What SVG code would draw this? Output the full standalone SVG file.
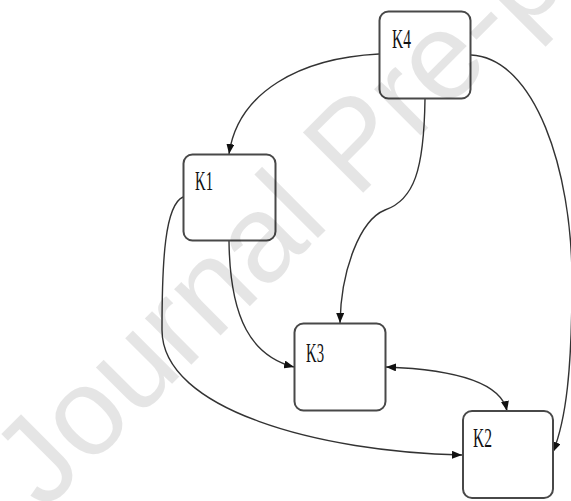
<svg xmlns="http://www.w3.org/2000/svg" width="571" height="501" viewBox="0 0 571 501">
  <style>
    .box { fill: #ffffff; stroke: #484848; stroke-width: 2; }
    .lbl { font-family: "Liberation Serif", "Times New Roman", serif; font-size: 28px; fill: #111111; }
    .edge { fill: none; stroke: #333333; stroke-width: 1.4; }
    .wm { font-family: "Liberation Sans", Arial, sans-serif; font-size: 124px; fill: #000000; fill-opacity: 0.1; }
  </style>
  <defs>
    <marker id="arrow" viewBox="0 0 10 8" refX="10" refY="4" markerWidth="10" markerHeight="8" markerUnits="userSpaceOnUse" orient="auto-start-reverse">
      <path d="M0,0 L10,4 L0,8 z" fill="#111111"/>
    </marker>
  </defs>

  <rect width="571" height="501" fill="#ffffff"/>

  <!-- connectors -->
  <g id="edges">
    <path class="edge" d="M379,54 C300,58 238,92 229,154" marker-end="url(#arrow)"/>
    <path class="edge" d="M425,99 C424,170 414,200 385,210 C360,220 341,270 340,323" marker-end="url(#arrow)"/>
    <path class="edge" d="M471,55 C535,58 572,170 572,280 C572,370 566,420 553,452" marker-end="url(#arrow)"/>
    <path class="edge" d="M229,241 C230,320 252,356 294,367" marker-end="url(#arrow)"/>
    <path class="edge" d="M183,197 C165,205 162,260 162,330 C162,410 320,452 462,455" marker-end="url(#arrow)"/>
    <path class="edge" d="M386,367 C440,369 500,378 507,411" marker-start="url(#arrow)" marker-end="url(#arrow)"/>
  </g>

  <!-- nodes -->
  <g id="K4">
    <rect class="box" x="379.5" y="11.5" width="91" height="87" rx="9"/>
    <text class="lbl" x="392" y="48" textLength="19" lengthAdjust="spacingAndGlyphs">K4</text>
  </g>
  <g id="K1">
    <rect class="box" x="183.5" y="154.5" width="92" height="86" rx="9"/>
    <text class="lbl" x="195" y="190" textLength="18" lengthAdjust="spacingAndGlyphs">K1</text>
  </g>
  <g id="K3">
    <rect class="box" x="294.5" y="323.5" width="91" height="87" rx="9"/>
    <text class="lbl" x="306" y="362" textLength="18" lengthAdjust="spacingAndGlyphs">K3</text>
  </g>
  <g id="K2">
    <rect class="box" x="463" y="411" width="90" height="87" rx="9"/>
    <text class="lbl" x="473" y="447" textLength="19" lengthAdjust="spacingAndGlyphs">K2</text>
  </g>

  <!-- translucent watermark laid over the page -->
  <text class="wm" transform="translate(44,512) rotate(-45)">Journal Pre-proof</text>
</svg>
